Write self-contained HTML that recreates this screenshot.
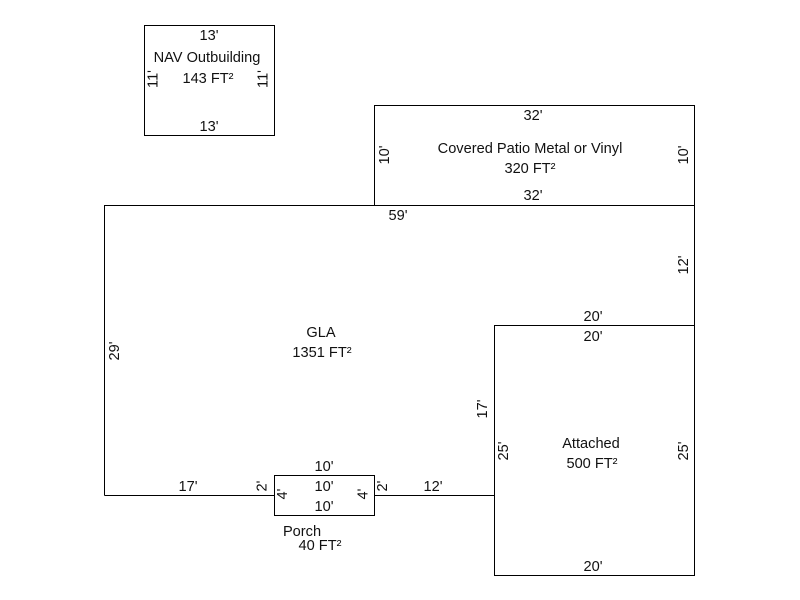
<!DOCTYPE html>
<html><head><meta charset="utf-8"><style>
html,body{margin:0;padding:0;background:#fff;}
svg{display:block;}
text{font-family:"Liberation Sans",Arial,sans-serif;font-size:14.6px;fill:#111;}
</style></head><body>
<svg width="800" height="600" viewBox="0 0 800 600" xmlns="http://www.w3.org/2000/svg">
<g fill="none" stroke="#000" stroke-width="1">
  <rect x="144.5" y="25.5" width="130" height="110"/>
  <rect x="374.5" y="105.5" width="320" height="100"/>
  <polyline points="104.5,495.5 104.5,205.5 694.5,205.5 694.5,325.5"/>
  <line x1="104.5" y1="495.5" x2="274.5" y2="495.5"/>
  <line x1="374.5" y1="495.5" x2="494.5" y2="495.5"/>
  <rect x="494.5" y="325.5" width="200" height="250"/>
  <rect x="274.5" y="475.5" width="100" height="40"/>
</g>
<g text-anchor="middle">
  <text x="209" y="40">13'</text>
  <text x="207" y="62">NAV Outbuilding</text>
  <text x="208" y="83">143 FT²</text>
  <text x="209" y="131">13'</text>
  <text transform="translate(157.5,79) rotate(-90)">11'</text>
  <text transform="translate(267.5,79) rotate(-90)">11'</text>
  <text x="533" y="120">32'</text>
  <text x="530" y="153">Covered Patio Metal or Vinyl</text>
  <text x="530" y="173">320 FT²</text>
  <text x="533" y="200">32'</text>
  <text transform="translate(389,155) rotate(-90)">10'</text>
  <text transform="translate(688,155) rotate(-90)">10'</text>
  <text x="398" y="220">59'</text>
  <text transform="translate(688,265) rotate(-90)">12'</text>
  <text x="321" y="337">GLA</text>
  <text x="322" y="357">1351 FT²</text>
  <text transform="translate(119,351) rotate(-90)">29'</text>
  <text transform="translate(487,409) rotate(-90)">17'</text>
  <text x="188" y="491">17'</text>
  <text x="433" y="491">12'</text>
  <text x="593" y="321">20'</text>
  <text x="593" y="341">20'</text>
  <text x="591" y="448">Attached</text>
  <text x="592" y="468">500 FT²</text>
  <text x="593" y="571">20'</text>
  <text transform="translate(508,451) rotate(-90)">25'</text>
  <text transform="translate(688,451) rotate(-90)">25'</text>
  <text x="324" y="471">10'</text>
  <text x="324" y="491">10'</text>
  <text x="324" y="511">10'</text>
  <text transform="translate(266.5,486) rotate(-90)">2'</text>
  <text transform="translate(387,486) rotate(-90)">2'</text>
  <text transform="translate(287,494) rotate(-90)">4'</text>
  <text transform="translate(367.5,494) rotate(-90)">4'</text>
  <text x="302" y="536">Porch</text>
  <text x="320" y="550">40 FT²</text>
</g>
</svg>
</body></html>
